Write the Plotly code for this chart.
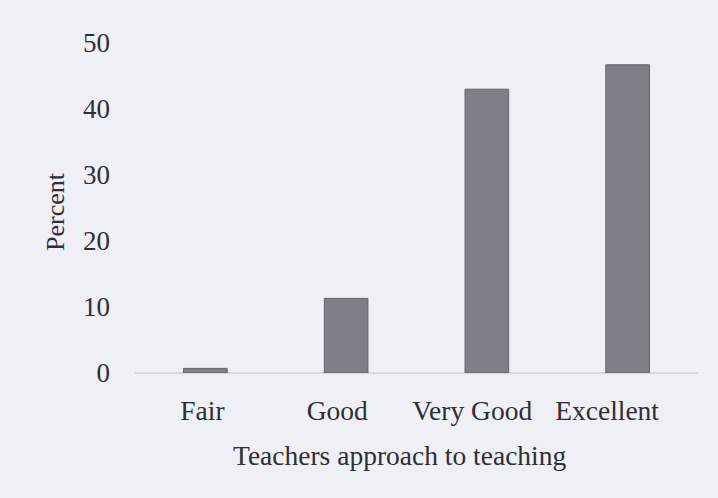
import plotly.graph_objects as go

categories = ["Fair", "Good", "Very Good", "Excellent"]
percent = [0.7, 11.3, 43.0, 46.7]
y_ticks = [0, 10, 20, 30, 40, 50]

FONT = "Liberation Serif, Times New Roman, serif"
TXT = "#2e2e33"
BG = "#eef0f6"

fig = go.Figure(go.Bar(
    x=categories, y=percent,
    marker=dict(color="#7e8088", line=dict(color="#62646b", width=1)),
    width=0.31,
))
# carrier trace so the label axis is drawn (no visible marks)
fig.add_trace(go.Scatter(x=list(range(len(categories))), y=[None] * len(categories),
                         xaxis="x2", mode="markers", hoverinfo="skip",
                         showlegend=False))

fig.update_layout(
    width=718, height=498,
    paper_bgcolor=BG, plot_bgcolor=BG,
    margin=dict(l=135, r=20, t=43, b=125),
    font=dict(family=FONT, size=26, color=TXT),
    showlegend=False,
    xaxis=dict(showgrid=False, showline=False, ticks="", zeroline=False,
               showticklabels=False, range=[-0.5, 3.5]),
    # label axis: tick labels in the reference sit at a slightly tighter pitch
    xaxis2=dict(overlaying="x", side="bottom", range=[-0.5, 3.674],
                tickvals=list(range(len(categories))), ticktext=categories,
                showgrid=False, showline=False, ticks="", zeroline=False,
                ticklabelstandoff=18, tickfont=dict(size=27.5)),
    yaxis=dict(range=[0, 50], tickvals=y_ticks, showgrid=False, showline=False,
               zeroline=True, zerolinecolor="#d6d8de", zerolinewidth=2,
               ticks="", ticklabelstandoff=24, tickfont=dict(size=27)),
    annotations=[
        dict(text="Teachers approach to teaching", x=0.471, y=-0.25,
             xref="paper", yref="paper", showarrow=False,
             xanchor="center", yanchor="middle", font=dict(size=27.5)),
        dict(text="Percent", x=-0.141, y=0.49, xref="paper", yref="paper",
             showarrow=False, textangle=-90, xanchor="center", yanchor="middle",
             font=dict(size=26)),
    ],
)

fig.write_html(
    "out.html",
    config={"displayModeBar": False},
    post_script="document.body.style.margin='0';document.body.style.background='#eef0f6';",
)
